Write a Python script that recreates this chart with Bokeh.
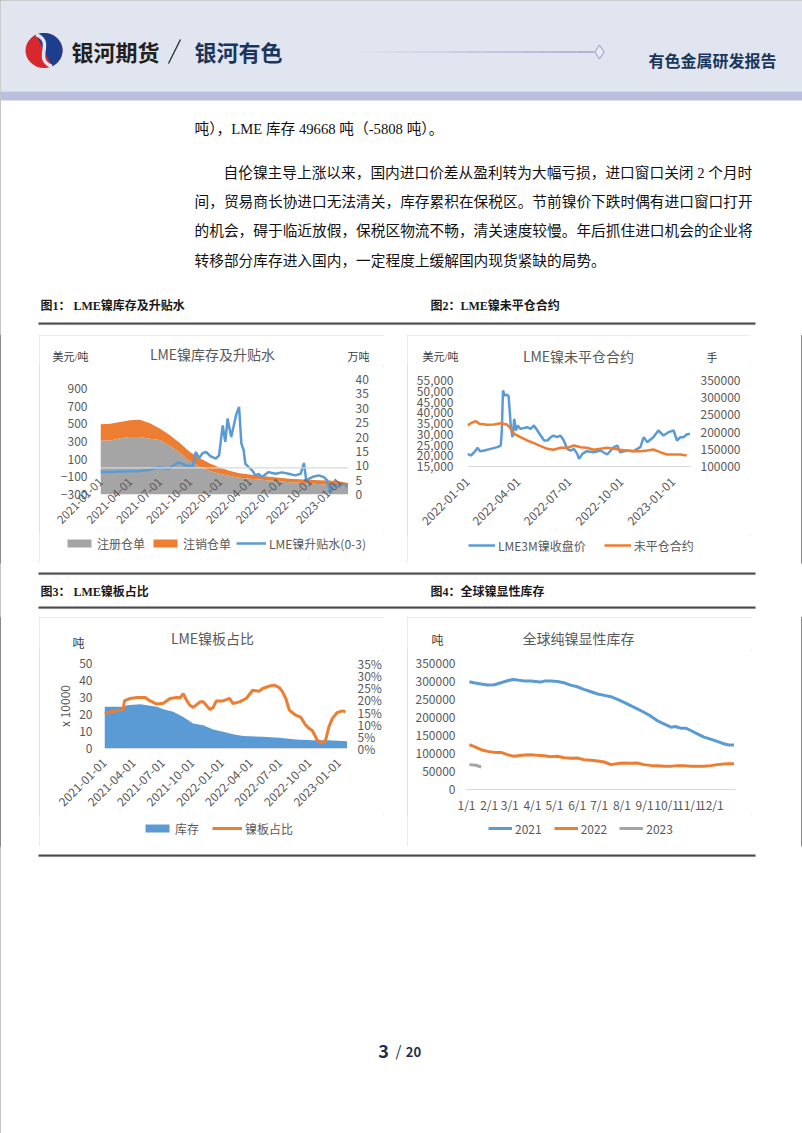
import numpy as np
import pandas as pd
from math import pi
from bokeh.plotting import figure
from bokeh.layouts import column, row
from bokeh.models import (Range1d, LinearAxis, FixedTicker, DatetimeTickFormatter,
                          NumeralTickFormatter, BasicTickFormatter, Legend,
                          LegendItem, Span, Spacer, ColumnDataSource)
from bokeh.core.properties import value
from bokeh.embed import file_html
from bokeh.resources import INLINE

CJK = "Noto Sans CJK SC"
SERIF = "Liberation Serif, Noto Sans CJK SC"
AX = "#595959"
BLUE = "#5B9BD5"
ORANGE = "#ED7D31"
GRAY = "#A5A5A5"

# ---------------- data ----------------
# Chart 1: LME nickel stocks (10k t) and 0-3 spread (USD/t)
c1_stock_dates = ["2021-01-01", "2021-02-01", "2021-03-01", "2021-04-01", "2021-05-01", "2021-06-01",
                  "2021-07-01", "2021-08-01", "2021-09-01", "2021-10-01", "2021-11-01", "2021-12-01",
                  "2022-01-01", "2022-02-01", "2022-03-01", "2022-04-01", "2022-05-01", "2022-06-01",
                  "2022-07-01", "2022-08-01", "2022-09-01", "2022-10-01", "2022-11-01", "2022-12-01",
                  "2023-01-01", "2023-01-27"]
c1_registered = [18.8, 18.8, 19.6, 20.0, 20.0, 19.4, 19.0, 17.0, 14.4, 11.6, 9.6, 8.2,
                 7.1, 6.4, 5.8, 5.5, 5.2, 4.9, 4.6, 4.3, 4.1, 3.9, 3.6, 3.3, 3.0, 2.7]
c1_cancelled = [5.6, 5.8, 5.6, 5.8, 6.0, 5.4, 4.0, 3.6, 3.4, 3.2, 3.0, 2.6,
                2.2, 1.8, 1.6, 1.5, 1.4, 1.3, 1.2, 1.2, 1.2, 1.2, 1.4, 1.6, 1.5, 1.3]
c1_spread_dates = ["2021-01-01", "2021-01-29", "2021-02-28", "2021-03-29", "2021-04-29", "2021-05-29",
                   "2021-06-29", "2021-07-08", "2021-07-29", "2021-08-19", "2021-08-29", "2021-09-19",
                   "2021-10-09", "2021-10-19", "2021-10-29", "2021-11-09", "2021-11-19", "2021-12-04",
                   "2021-12-19", "2021-12-29", "2022-01-09", "2022-01-17", "2022-01-24", "2022-02-04",
                   "2022-02-11", "2022-02-19", "2022-02-28", "2022-03-07", "2022-03-14", "2022-03-19",
                   "2022-03-29", "2022-04-09", "2022-04-19", "2022-04-29", "2022-05-09", "2022-05-29",
                   "2022-06-19", "2022-07-09", "2022-07-29", "2022-08-19", "2022-09-04", "2022-09-14",
                   "2022-09-21", "2022-10-09", "2022-10-29", "2022-11-14", "2022-11-24", "2022-12-04",
                   "2022-12-14", "2022-12-29", "2023-01-14", "2023-01-24"]
c1_spread = [-47, -45, -40, -38, -35, -22, 8, 2, -8, 48,
             62, 28, 20, 180, 112, 168, 180, 130, 105, 143,
             480, 295, 560, 350, 465, 600, 690, 275, 200, 50,
             10, -28, -84, -66, -103, -47, -66, -50, -66, -84,
             -66, 56, -140, -103, -84, -103, -140, -290, -180, -215,
             -180, -215]
c1_ticks = ["2021-01-01", "2021-04-01", "2021-07-01", "2021-10-01", "2022-01-01",
            "2022-04-01", "2022-07-01", "2022-10-01", "2023-01-01"]
c1_left_ticks = [-300, -100, 100, 300, 500, 700, 900]
c1_right_ticks = [0, 5, 10, 15, 20, 25, 30, 35, 40]

# Chart 2: LME 3M price and open interest
c2_price_dates = ["2022-01-01", "2022-01-07", "2022-01-13", "2022-01-19", "2022-01-23", "2022-01-31",
                  "2022-02-11", "2022-02-23", "2022-03-01", "2022-03-03",
                  "2022-03-05", "2022-03-08", "2022-03-12", "2022-03-15", "2022-03-19", "2022-03-22",
                  "2022-03-25", "2022-03-28", "2022-03-31", "2022-04-05",
                  "2022-04-17", "2022-04-23", "2022-04-29", "2022-05-05", "2022-05-11", "2022-05-17",
                  "2022-05-23", "2022-05-29", "2022-06-03", "2022-06-09",
                  "2022-06-15", "2022-06-21", "2022-06-27", "2022-07-03", "2022-07-09", "2022-07-15",
                  "2022-07-18", "2022-07-24", "2022-08-01", "2022-08-13",
                  "2022-08-25", "2022-09-06", "2022-09-18", "2022-09-24", "2022-09-29", "2022-10-11",
                  "2022-10-23", "2022-11-04", "2022-11-10", "2022-11-16",
                  "2022-11-27", "2022-12-06", "2022-12-15", "2022-12-24", "2023-01-02", "2023-01-08",
                  "2023-01-14", "2023-01-20", "2023-01-25", "2023-01-31"]
c2_price = [20890, 20115, 21665, 23680, 22130, 22440, 23215, 24000, 24765, 31740,
            50340, 48015, 48480, 47705, 33290, 28640, 37165, 31740, 34065, 32515,
            33290, 32515, 34065, 31740, 29415, 27090, 27090, 28640, 29415, 28640,
            29415, 27090, 23215, 22440, 23215, 20890, 18565, 20890, 22130, 21665,
            22440, 20580, 24000, 24765, 21665, 22440, 22130, 24000, 28640, 26315,
            28640, 31740, 29415, 30965, 31740, 27090, 28640, 28640, 29880, 30200]
c2_oi_dates = ["2022-01-01", "2022-01-07", "2022-01-16", "2022-01-22", "2022-02-05", "2022-02-17",
               "2022-03-01", "2022-03-12", "2022-03-19", "2022-03-25",
               "2022-04-05", "2022-04-17", "2022-04-29", "2022-05-11", "2022-05-23", "2022-06-03",
               "2022-06-15", "2022-06-27", "2022-07-09", "2022-07-21",
               "2022-08-01", "2022-08-13", "2022-08-25", "2022-09-06", "2022-09-18", "2022-09-29",
               "2022-10-11", "2022-10-23", "2022-11-04", "2022-11-16",
               "2022-11-27", "2022-12-09", "2022-12-21", "2023-01-02", "2023-01-14", "2023-01-25"]
c2_oi = [219200, 226000, 231800, 224000, 221100, 222100, 226000, 222100, 209500, 195000,
         185300, 175600, 167800, 159100, 151400, 148500, 154300, 154300, 161000, 156200,
         154300, 148500, 151400, 154300, 151400, 148500, 146500, 144600, 144600, 146500,
         149400, 141700, 134900, 134900, 134900, 132000]
c2_ticks = ["2022-01-01", "2022-04-01", "2022-07-01", "2022-10-01", "2023-01-01"]
c2_left_ticks = [15000, 20000, 25000, 30000, 35000, 40000, 45000, 50000, 55000]
c2_right_ticks = [100000, 150000, 200000, 250000, 300000, 350000]

# Chart 3: LME stock (10k t) and cathode share (%)
c3_stock_dates = ["2021-01-01", "2021-03-02", "2021-03-12", "2021-04-22", "2021-06-13", "2021-07-03",
                  "2021-08-03", "2021-09-03", "2021-10-04", "2021-11-04",
                  "2021-12-05", "2022-01-05", "2022-02-05", "2022-03-08", "2022-05-08", "2022-06-29",
                  "2022-08-19", "2022-10-10", "2022-11-30", "2023-01-26"]
c3_stock = [24.5, 24.5, 25.5, 26.0, 24.5, 23.1, 21.6, 18.6, 14.7, 13.7,
            11.2, 9.8, 8.4, 7.3, 6.9, 6.3, 5.3, 4.9, 4.9, 4.3]
c3_ratio_dates = ["2021-01-01", "2021-01-20", "2021-02-19", "2021-02-28", "2021-03-04", "2021-03-22",
                  "2021-04-12", "2021-05-08", "2021-05-23", "2021-06-13",
                  "2021-07-03", "2021-07-24", "2021-08-14", "2021-08-24", "2021-09-03", "2021-09-13",
                  "2021-09-24", "2021-10-04", "2021-10-25", "2021-11-04",
                  "2021-11-25", "2021-12-05", "2021-12-15", "2022-01-05", "2022-01-25", "2022-02-05",
                  "2022-02-25", "2022-03-18", "2022-04-07", "2022-04-28",
                  "2022-05-08", "2022-05-29", "2022-06-13", "2022-06-29", "2022-07-09", "2022-07-19",
                  "2022-07-30", "2022-08-19", "2022-09-04", "2022-09-19",
                  "2022-09-30", "2022-10-10", "2022-10-25", "2022-11-10", "2022-11-20", "2022-11-30",
                  "2022-12-11", "2022-12-26", "2023-01-11", "2023-01-21"]
c3_ratio = [14.4, 15.1, 15.8, 15.9, 19.6, 20.6, 21.0, 21.0, 19.6, 18.3,
            18.6, 20.6, 21.0, 20.8, 22.6, 19.9, 17.8, 16.9, 19.2, 19.2,
            16.1, 16.9, 19.6, 19.6, 20.6, 18.5, 19.2, 20.6, 24.0, 23.6,
            24.7, 25.7, 26.1, 25.1, 23.3, 20.6, 15.8, 13.7, 12.8, 9.6,
            8.2, 7.3, 3.4, 2.3, 3.4, 8.9, 12.4, 14.8, 15.5, 15.1]
c3_left_ticks = [0, 10, 20, 30, 40, 50]
c3_right_ticks = [0, 5, 10, 15, 20, 25, 30, 35]

# Chart 4: global visible refined nickel stocks (t), by day of year
c4_days_2021 = [4, 10, 20, 29, 38, 47, 56, 63, 70, 79, 88, 97, 101, 106, 115, 124, 133, 142, 151, 160,
                170, 179, 188, 197, 206, 215, 224, 233, 242, 251, 260, 270, 279, 285, 292, 299, 306,
                315, 324, 333, 342, 351, 358, 365]
c4_2021 = [299260, 296500, 292800, 290050, 290970, 296500, 302000, 305700, 303860, 301100,
           301100, 299260, 298300, 301100, 301100, 300200, 296500, 290050, 285450, 278100,
           271600, 265200, 261500, 257800, 250500, 242200, 233000, 223800, 214500, 204400,
           191500, 181400, 173100, 174900, 170300, 170300, 163900, 154700, 145500, 140000,
           133500, 127100, 123400, 123400]
c4_days_2022 = [4, 10, 20, 29, 38, 47, 56, 65, 70, 79, 88, 97, 106, 115, 124, 133, 142, 151, 160, 170,
                179, 188, 197, 206, 215, 224, 233, 242, 251, 260, 270, 279, 288, 297, 306, 315, 324,
                333, 342, 351, 358, 365]
c4_2022 = [124300, 119700, 110500, 105900, 103100, 103100, 96700, 92100, 93900, 95800,
           96700, 94800, 93900, 91200, 92100, 88400, 86600, 87500, 82900, 81000,
           79200, 76400, 69100, 71900, 73700, 72800, 73700, 69100, 67000, 66300,
           64500, 64500, 66300, 66300, 64500, 64500, 64500, 66300, 69100, 71000,
           71800, 71800]
c4_days_2023 = [4, 13, 20]
c4_2023 = [69100, 67300, 62600]
c4_month_ticks = [0, 31, 59, 90, 120, 151, 181, 212, 243, 273, 304, 334]
c4_month_labels = ["1/1", "2/1", "3/1", "4/1", "5/1", "6/1", "7/1", "8/1", "9/1", "10/1", "11/1", "12/1"]
c4_left_ticks = [0, 50000, 100000, 150000, 200000, 250000, 300000, 350000]


def ms(dates):
    return (pd.to_datetime(dates).asi8 // 10**6).tolist()


DT = DatetimeTickFormatter(microseconds="%Y-%m-%d", milliseconds="%Y-%m-%d", seconds="%Y-%m-%d",
                           minsec="%Y-%m-%d", minutes="%Y-%m-%d", hourmin="%Y-%m-%d",
                           hours="%Y-%m-%d", days="%Y-%m-%d", months="%Y-%m-%d", years="%Y-%m-%d")


def no_align(p):
    try:
        p.frame_align = False
    except Exception:
        pass
    return p


# ---------------- plain drawing figures ----------------
def box_fig(w, h, y0=0):
    p = figure(width=w, height=h, x_range=Range1d(0, w), y_range=Range1d(y0 + h, y0),
               output_backend="svg", toolbar_location=None, title=None,
               x_axis_location=None, y_axis_location=None, min_border=0)
    p.grid.visible = False
    p.outline_line_color = None
    p.background_fill_color = "white"
    p.border_fill_color = "white"
    return no_align(p)


def ptext(p, x, y, s, size, color="#111111", font=CJK, bold=False, align="left"):
    p.text(x=[x], y=[y], text=[s], text_font=value(font), text_font_size=size,
           text_color=color, text_font_style="bold" if bold else "normal",
           text_align=align, text_baseline="middle")


def rule(p, x0, x1, y):
    p.segment(x0=[x0], x1=[x1], y0=[y + 1.2], y1=[y + 1.2], line_color="#C8C8C8", line_width=1)
    p.segment(x0=[x0], x1=[x1], y0=[y], y1=[y], line_color="#4A4A4A", line_width=2)


# ---------------- top block (header + text + caption) ----------------
top = box_fig(802, 335, 0)
top.quad(left=[0], right=[802], top=[0], bottom=[91], fill_color="#E1E5EF", line_color=None)
top.quad(left=[0], right=[802], top=[91], bottom=[100], fill_color="#B9BFDC", line_color=None)
# logo
top.ellipse(x=[43.5], y=[50], width=[37], height=[35], fill_color="#D7282F", line_color=None)
th = np.radians(np.linspace(-65, 115, 40))
top.patch(43.5 + 18.5 * np.cos(th), 50 - 17.5 * np.sin(th), fill_color="#1D3E8C", line_color=None)
top.bezier(x0=[35.7], y0=[34.1], x1=[51.3], y1=[65.9], cx0=[55], cy0=[42], cx1=[32], cy1=[58],
           line_color="#E1E5EF", line_width=3.5)
ptext(top, 71, 50, "银河期货", "22px", "#231F20", bold=True)
top.segment(x0=[168], y0=[63], x1=[180], y1=[39], line_color="#333333", line_width=1.4)
ptext(top, 194, 50, "银河有色", "22px", "#1B365D", bold=True)
n = 14
xs = np.linspace(340, 594, n + 1)
c0 = np.array([225, 229, 239]); c1c = np.array([158, 164, 204])
cols = ["#%02x%02x%02x" % tuple((c0 + (c1c - c0) * (i / (n - 1))).astype(int)) for i in range(n)]
top.multi_line(xs=[[xs[i], xs[i + 1]] for i in range(n)], ys=[[51.5, 51.5]] * n,
               line_color=cols, line_width=1.3)
top.scatter(x=[599], y=[51.5], marker="diamond", size=14, fill_color="#E8EBF4",
            line_color="#A3A9CB", line_width=1.2)
ptext(top, 648, 59, "有色金属研发报告", "16px", "#1B365D", bold=True)

BODY = "14.7px"
ptext(top, 194, 128, "吨），LME 库存 49668 吨（-5808 吨）。", BODY, font=SERIF)
ptext(top, 223, 172, "自伦镍主导上涨以来，国内进口价差从盈利转为大幅亏损，进口窗口关闭 2 个月时", BODY, font=SERIF)
ptext(top, 194, 201, "间，贸易商长协进口无法清关，库存累积在保税区。节前镍价下跌时偶有进口窗口打开", BODY, font=SERIF)
ptext(top, 194, 230, "的机会，碍于临近放假，保税区物流不畅，清关速度较慢。年后抓住进口机会的企业将", BODY, font=SERIF)
ptext(top, 194, 260, "转移部分库存进入国内，一定程度上缓解国内现货紧缺的局势。", BODY, font=SERIF)

ptext(top, 40, 305, "图1：  LME镍库存及升贴水", "12px", "#1A1A1A", font=SERIF, bold=True)
ptext(top, 430, 305, "图2：LME镍未平仓合约", "12px", "#1A1A1A", font=SERIF, bold=True)
rule(top, 38, 755, 323)


# ---------------- chart helpers ----------------
def make_chart(w, h, fl, fr, ft, fb, xr, yr, xtype="linear"):
    p = figure(width=w, height=h, x_range=xr, y_range=yr, x_axis_type=xtype,
               output_backend="svg", toolbar_location=None, title=None,
               min_border_left=fl, min_border_right=fr, min_border_top=ft, min_border_bottom=fb)
    p.grid.visible = False
    p.outline_line_color = None
    p.background_fill_color = "white"
    p.border_fill_color = "white"
    return no_align(p)


def style_axis(ax, size="12px", standoff=8, line=None):
    ax.major_tick_line_color = None
    ax.minor_tick_line_color = None
    ax.major_tick_out = 0
    ax.major_tick_in = 0
    ax.minor_tick_out = 0
    ax.minor_tick_in = 0
    ax.axis_line_color = line
    ax.major_label_text_font = CJK
    ax.major_label_text_color = AX
    ax.major_label_text_font_size = size
    ax.major_label_standoff = standoff


def header(w, h, title, tx, ty, units):
    p = box_fig(w, h)
    ptext(p, tx, ty, title, "14px", AX, CJK, align="center")
    for (ux, uy, s, font, size) in units:
        ptext(p, ux, uy, s, size, "#3A3A3A", font)
    return p


def legend_box(w, h, entries, loc, spacing, gw=30):
    # legend strip: the swatch renderers hold a point outside the visible range
    p = box_fig(w, h)
    items = []
    for label, kind, color, lw in entries:
        if kind == "area":
            r = p.varea(x=[-30, -20], y1=[-30, -30], y2=[-20, -20], fill_color=color)
        else:
            r = p.line(x=[-30, -20], y=[-30, -30], line_color=color, line_width=lw)
        items.append(LegendItem(label=value(label), renderers=[r]))
    lg = Legend(items=items, location=loc, orientation="horizontal", border_line_color=None,
                background_fill_alpha=0, padding=0, margin=0, spacing=spacing,
                label_standoff=3, glyph_width=gw, glyph_height=10, label_height=20,
                label_text_font=CJK, label_text_font_size="12px", label_text_color=AX)
    p.add_layout(lg, "center")
    return p


BOX = {"outline": "1px solid #D9D9D9", "outline-offset": "-1px"}

# ---------------- chart 1 ----------------
p1 = make_chart(345, 168, 61, 36, 14, 39,
                Range1d(pd.Timestamp("2021-01-01"), pd.Timestamp("2023-01-28")),
                Range1d(-300, 1000), "datetime")
p1.extra_y_ranges = {"r": Range1d(0, 40)}
src1 = ColumnDataSource(dict(d=pd.to_datetime(c1_stock_dates), reg=c1_registered, canc=c1_cancelled))
rs1 = p1.varea_stack(["reg", "canc"], x="d", source=src1, color=[GRAY, ORANGE], y_range_name="r")
p1.add_layout(Span(location=0, dimension="width", line_color="#D9D9D9", line_width=1.2, level="glyph"))
p1.line(pd.to_datetime(c1_spread_dates), c1_spread, line_color=BLUE, line_width=2.5)
ax = p1.xaxis[0]
ax.ticker = FixedTicker(ticks=ms(c1_ticks), minor_ticks=[])
ax.formatter = DT
ax.major_label_orientation = pi / 4
style_axis(ax, "11.5px", -15)
ay = p1.yaxis[0]
ay.ticker = FixedTicker(ticks=c1_left_ticks, minor_ticks=[])
style_axis(ay, "12px", 13)
ar = LinearAxis(y_range_name="r", ticker=FixedTicker(ticks=c1_right_ticks, minor_ticks=[]))
style_axis(ar, "12px", 7)
p1.add_layout(ar, "right")
h1 = header(345, 30, "LME镍库存及升贴水", 173, 18,
            [(13, 21, "美元/吨", SERIF, "11px"), (308, 21, "万吨", SERIF, "11px")])
l1 = legend_box(345, 30, [("注册仓单", "area", GRAY, 0), ("注销仓单", "area", ORANGE, 0),
                          ("LME镍升贴水(0-3)", "line", BLUE, 2.5)], (25, 10), 5)
chart1 = column(h1, p1, l1, styles=BOX)

# ---------------- chart 2 ----------------
p2 = make_chart(344, 170, 60, 61, 15, 69,
                Range1d(pd.Timestamp("2022-01-01"), pd.Timestamp("2023-02-01")),
                Range1d(15000, 55000), "datetime")
p2.extra_y_ranges = {"r": Range1d(100000, 350000)}
p2.line(pd.to_datetime(c2_price_dates), c2_price, line_color=BLUE, line_width=2.5)
p2.line(pd.to_datetime(c2_oi_dates), c2_oi, line_color=ORANGE, line_width=2.5, y_range_name="r")
ax = p2.xaxis[0]
ax.ticker = FixedTicker(ticks=ms(c2_ticks), minor_ticks=[])
ax.formatter = DT
ax.major_label_orientation = pi / 4
style_axis(ax, "12px", 13, "#D9D9D9")
ay = p2.yaxis[0]
ay.ticker = FixedTicker(ticks=c2_left_ticks, minor_ticks=[])
ay.formatter = NumeralTickFormatter(format="0,0")
style_axis(ay, "12px", 14)
ar = LinearAxis(y_range_name="r", ticker=FixedTicker(ticks=c2_right_ticks, minor_ticks=[]),
                formatter=BasicTickFormatter(use_scientific=False))
style_axis(ar, "12px", 10)
p2.add_layout(ar, "right")
h2 = header(344, 30, "LME镍未平仓合约", 171, 20,
            [(15, 21, "美元/吨", SERIF, "11px"), (299, 22, "手", SERIF, "11px")])
l2 = legend_box(344, 28, [("LME3M镍收盘价", "line", BLUE, 2.5), ("未平仓合约", "line", ORANGE, 2.5)],
                (61, 8), 18, gw=27)
chart2 = column(h2, p2, l2, styles=BOX)

# ---------------- chart 3 ----------------
p3 = make_chart(345, 165, 65, 36, 13, 67,
                Range1d(pd.Timestamp("2021-01-01"), pd.Timestamp("2023-01-27")),
                Range1d(0, 50), "datetime")
p3.extra_y_ranges = {"r": Range1d(0, 35)}
p3.varea(x=pd.to_datetime(c3_stock_dates), y1=0, y2=c3_stock, fill_color=BLUE)
p3.line(pd.to_datetime(c3_ratio_dates), c3_ratio, line_color=ORANGE, line_width=3, y_range_name="r")
ax = p3.xaxis[0]
ax.ticker = FixedTicker(ticks=ms(c1_ticks), minor_ticks=[])
ax.formatter = DT
ax.major_label_orientation = pi / 4
style_axis(ax, "12px", 12, "#D9D9D9")
ay = p3.yaxis[0]
ay.ticker = FixedTicker(ticks=c3_left_ticks, minor_ticks=[])
style_axis(ay, "12px", 12)
ay.axis_label = "x 10000"
ay.axis_label_text_font = CJK
ay.axis_label_text_font_style = "normal"
ay.axis_label_text_font_size = "12px"
ay.axis_label_text_color = AX
ay.axis_label_standoff = 3
ar = LinearAxis(y_range_name="r", ticker=FixedTicker(ticks=c3_right_ticks, minor_ticks=[]))
ar.major_label_overrides = {t: f"{t}%" for t in c3_right_ticks}
style_axis(ar, "12px", 10)
p3.add_layout(ar, "right")
h3 = header(345, 33, "LME镍板占比", 173, 20, [(33, 25, "吨", CJK, "12px")])
l3 = legend_box(345, 31, [("库存", "area", BLUE, 0), ("镍板占比", "line", ORANGE, 3)], (103, 8), 13)
chart3 = column(h3, p3, l3, styles=BOX)

# ---------------- chart 4 ----------------
p4 = make_chart(345, 165, 59, 17, 13, 25, Range1d(0, 367), Range1d(0, 350000))
p4.line(c4_days_2021, c4_2021, line_color=BLUE, line_width=3)
p4.line(c4_days_2022, c4_2022, line_color=ORANGE, line_width=3)
p4.line(c4_days_2023, c4_2023, line_color=GRAY, line_width=3)
ax = p4.xaxis[0]
ax.ticker = FixedTicker(ticks=c4_month_ticks, minor_ticks=[])
ax.major_label_overrides = dict(zip(c4_month_ticks, c4_month_labels))
style_axis(ax, "12px", 6, "#D9D9D9")
ay = p4.yaxis[0]
ay.ticker = FixedTicker(ticks=c4_left_ticks, minor_ticks=[])
ay.formatter = BasicTickFormatter(use_scientific=False)
style_axis(ay, "12px", 11)
h4 = header(345, 33, "全球纯镍显性库存", 171, 20, [(24, 22, "吨", CJK, "12px")])
l4 = legend_box(345, 31, [("2021", "line", BLUE, 3), ("2022", "line", ORANGE, 3),
                          ("2023", "line", GRAY, 3)], (81, 8), 12, gw=24)
chart4 = column(h4, p4, l4, styles=BOX)

# ---------------- middle & bottom blocks ----------------
mid = box_fig(802, 54, 563)
rule(mid, 38, 755, 573)
ptext(mid, 40, 591, "图3：  LME镍板占比", "12px", "#1A1A1A", font=SERIF, bold=True)
ptext(mid, 430, 591, "图4：全球镍显性库存", "12px", "#1A1A1A", font=SERIF, bold=True)
rule(mid, 38, 755, 607)

bottom = box_fig(802, 287, 846)
rule(bottom, 38, 755, 855)
ptext(bottom, 383, 1050, "3", "18px", "#1F2D4D", bold=True, align="center")
ptext(bottom, 398, 1050, "/", "15px", "#1F2D4D", align="center")
ptext(bottom, 413, 1051, "20", "13px", "#1F2D4D", bold=True, align="center")

row1 = row(Spacer(width=39, height=228), chart1, Spacer(width=23, height=228), chart2,
           Spacer(width=51, height=228))
row2 = row(Spacer(width=39, height=229), chart3, Spacer(width=23, height=229), chart4,
           Spacer(width=50, height=229))
page = column(top, row1, mid, row2, bottom,
              styles={"outline": "1px solid #8A8A8A", "outline-offset": "-1px"})

open("out.html", "w").write(file_html(page, INLINE, title="LME镍"))
